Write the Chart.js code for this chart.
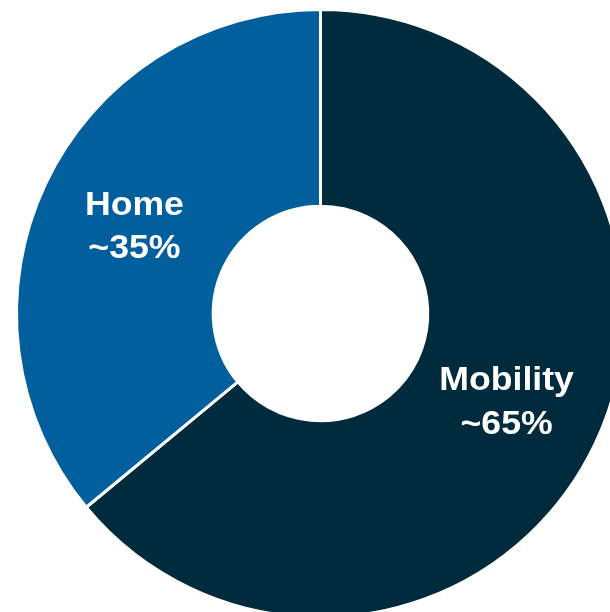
<!DOCTYPE html>
<html>
<head>
<meta charset="utf-8">
<script src="https://cdn.jsdelivr.net/npm/chart.js@4/dist/chart.umd.min.js"></script>
<style>
  html, body { margin: 0; padding: 0; background: #ffffff; overflow: hidden; }
  #wrap { position: absolute; left: 0; top: 0; width: 641px; height: 627px; }
</style>
</head>
<body>
<div id="wrap"><canvas id="chart"></canvas></div>
<script>
  const categories = ['Mobility', 'Home'];
  const shares = [64, 36];
  const shareLabels = ['~65%', '~35%'];
  const colors = ['#002b3c', '#005f9c'];

  // draws the two-line white labels in the middle of each slice
  // (the source text is a touch wider than plain Arial, hence the small x stretch)
  const sliceLabels = {
    id: 'sliceLabels',
    afterDatasetsDraw(chart) {
      const ctx = chart.ctx;
      const meta = chart.getDatasetMeta(0);
      ctx.save();
      ctx.fillStyle = '#ffffff';
      ctx.font = 'bold 33px "Liberation Sans", Arial, sans-serif';
      ctx.textAlign = 'center';
      ctx.textBaseline = 'alphabetic';
      meta.data.forEach((arc, i) => {
        const pos = arc.tooltipPosition();
        ctx.save();
        ctx.translate(pos.x, pos.y);
        ctx.scale(1.08, 1);
        ctx.fillText(categories[i], 0, -11);
        ctx.fillText(shareLabels[i], 0, 32.5);
        ctx.restore();
      });
      ctx.restore();
    }
  };

  new Chart(document.getElementById('chart'), {
    type: 'doughnut',
    data: {
      labels: categories,
      datasets: [{
        data: shares,
        backgroundColor: colors,
        borderColor: '#ffffff',
        borderWidth: 3,
        hoverOffset: 0
      }]
    },
    options: {
      responsive: true,
      maintainAspectRatio: false,
      animation: false,
      cutout: '35.3%',
      layout: { padding: 8 },
      plugins: {
        legend: { display: false },
        tooltip: { enabled: false }
      }
    },
    plugins: [sliceLabels]
  });
</script>
</body>
</html>
